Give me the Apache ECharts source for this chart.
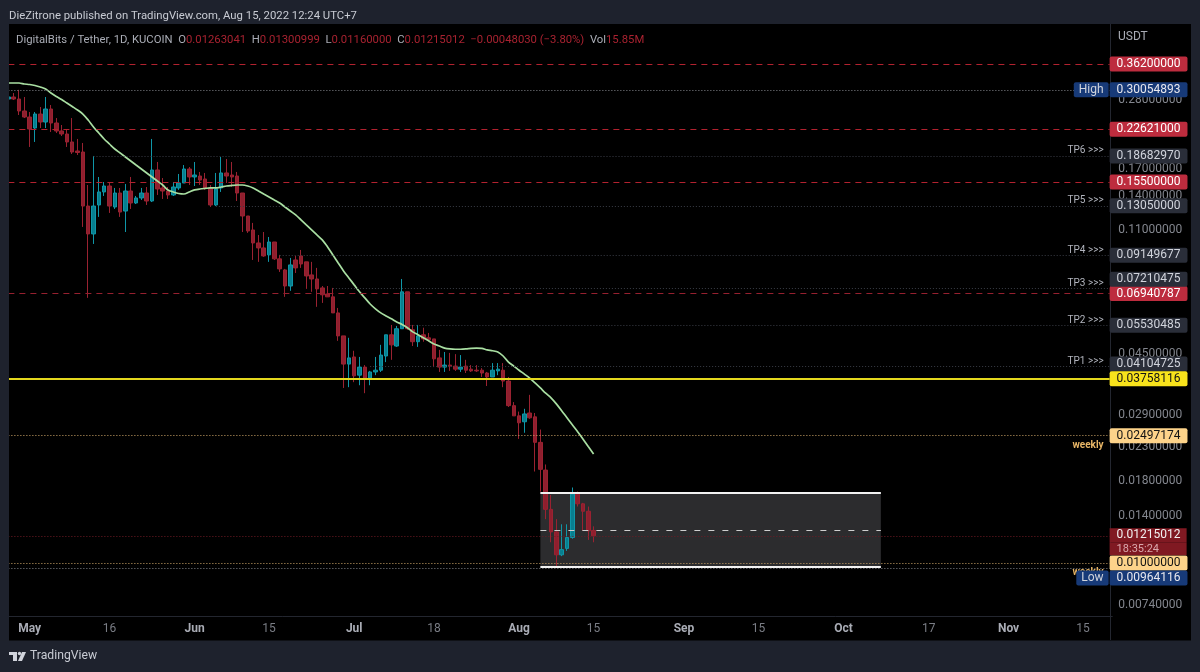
<!DOCTYPE html>
<html>
<head>
<meta charset="utf-8">
<title>DigitalBits / Tether, 1D</title>
<script src="https://cdn.jsdelivr.net/npm/echarts@6/dist/echarts.min.js"></script>
<style>
  html, body { margin: 0; padding: 0; background: #1e222d; }
  #chart { width: 1200px; height: 672px; }
</style>
</head>
<body>
<div id="chart"></div>
<script>
// Daily candles from 27 Apr to 15 Aug 2022
const opens = [
  .2814,.2855,.2814,.2582,.2472,.2284,.2526,.2385,.2619,.2368,.2236,.2188,.2066,.1936,.1922,.1303,
  .1066,.1313,.1442,.1505,.1294,.1431,.1257,.1452,.1332,.1381,.1431,.1351,.1689,.1484,.1452,.1411,
  .1484,.1538,.1701,.1606,.1617,.1583,.1484,.1313,.1484,.1653,.1629,.1617,.1431,.1213,.1097,.0999,
  .0964,.0917,.1006,.0891,.0823,.0733,.0884,.0910,.0872,.0794,.0771,.0723,.0692,.0678,.0604,.0512,
  .0418,.0440,.0386,.0409,.0378,.0395,.0400,.0443,.0516,.0476,.0539,.0703,.0535,.0491,.0516,.0505,
  .0501,.0437,.0409,.0415,.0412,.0403,.0412,.0403,.0400,.0400,.0392,.0381,.0398,.0400,.0370,.0310,
  .0288,.0276,.0294,.0286,.0238,.0195,.0147,.0125,.0106,.0111,.0120,.0164,.0153,.0145,.01263041
];
const closes = [
  .2855,.2814,.2582,.2472,.2268,.2526,.2385,.2619,.2368,.2236,.2188,.2066,.1922,.1915,.1303,.1066,
  .1303,.1442,.1505,.1303,.1431,.1248,.1452,.1332,.1381,.1431,.1351,.1689,.1473,.1452,.1411,.1494,
  .1538,.1701,.1606,.1629,.1571,.1484,.1313,.1473,.1653,.1617,.1606,.1431,.1213,.1089,.0999,.0964,
  .0910,.1006,.0891,.0829,.0733,.0853,.0835,.0859,.0788,.0771,.0718,.0688,.0678,.0604,.0512,.0418,
  .0437,.0384,.0409,.0378,.0395,.0400,.0446,.0516,.0480,.0539,.0703,.0539,.0491,.0512,.0501,.0498,
  .0434,.0409,.0415,.0412,.0403,.0409,.0400,.0398,.0398,.0392,.0381,.0400,.0403,.0370,.0310,.0288,
  .0274,.0292,.0284,.0238,.0196,.0147,.0125,.0106,.0110,.0120,.0164,.0153,.0145,.0126,.01215012
];
const lows = [
  .2794,.2794,.2508,.2454,.1993,.2066,.2284,.2284,.2220,.2204,.2157,.1993,.1895,.1881,.1121,.0673,
  .0992,.1205,.1401,.1240,.1276,.1205,.1081,.1276,.1322,.1361,.1313,.1341,.1411,.1371,.1371,.1401,
  .1463,.1538,.1516,.1505,.1516,.1463,.1294,.1303,.1442,.1538,.1494,.1351,.1081,.1074,.0884,.0872,
  .0904,.0872,.0884,.0811,.0678,.0708,.0805,.0835,.0718,.0703,.0631,.0649,.0678,.0604,.0494,.0352,
  .0354,.0367,.0359,.0339,.0359,.0386,.0395,.0424,.0431,.0473,.0539,.0535,.0476,.0473,.0491,.0491,
  .0409,.0395,.0395,.0398,.0398,.0395,.0392,.0395,.0395,.0381,.0357,.0381,.0386,.0354,.0307,.0288,
  .0244,.0255,.0282,.0193,.0167,.0137,.0116,.00964116,.0105,.0109,.0119,.0150,.0126,.0118,.0116
];
const highs = [
  .2875,.2938,.30054893,.2855,.2563,.2563,.2657,.2855,.2695,.2454,.2334,.2252,.2454,.2111,.2051,.1516,
  .1868,.1606,.1549,.1549,.1484,.1484,.1527,.1606,.1401,.1484,.1494,.2111,.1789,.1594,.1494,.1549,
  .1641,.1750,.1725,.1789,.1665,.1653,.1516,.1653,.1854,.1828,.1789,.1665,.1431,.1213,.1154,.1058,
  .1081,.1043,.1006,.0917,.0829,.0897,.0910,.0950,.0872,.0872,.0835,.0733,.0733,.0723,.0626,.0512,
  .0505,.0460,.0440,.0415,.0398,.0440,.0480,.0516,.0554,.0550,.0771,.0703,.0554,.0554,.0543,.0523,
  .0501,.0463,.0456,.0453,.0449,.0446,.0431,.0415,.0415,.0406,.0395,.0421,.0421,.0421,.0381,.0318,
  .0297,.0303,.0335,.0294,.0261,.0203,.0163,.0137,.0132,.0132,.0172,.0167,.0154,.0150,.01300999
];
// Moving average overlay, one reading per candle
const maValues = [
  .3157,.3157,.3157,.3135,.3124,.3102,.3068,.3024,.2938,.2865,.2804,.2734,.2666,.2600,.2526,.2419,
  .2301,.2204,.2111,.2036,.1964,.1909,.1854,.1802,.1750,.1701,.1653,.1606,.1560,.1516,.1463,.1442,
  .1426,.1421,.1442,.1463,.1473,.1479,.1484,.1484,.1494,.1505,.1511,.1516,.1516,.1505,.1484,.1452,
  .1421,.1391,.1361,.1332,.1294,.1257,.1222,.1179,.1137,.1097,.1058,.1021,.0971,.0917,.0865,.0817,
  .0777,.0739,.0703,.0673,.0644,.0622,.0604,.0591,.0579,.0566,.0556,.0543,.0527,.0516,.0505,.0494,
  .0483,.0476,.0469,.0466,.0465,.0465,.0466,.0468,.0469,.0468,.0463,.0460,.0456,.0443,.0424,.0412,
  .0400,.0389,.0378,.0365,.0352,.0339,.0328,.0314,.0299,.0284,.0270,.0257,.0244,.0231,.0219
];

// Horizontal price levels
const redLevels = [0.362, 0.22621, 0.155, 0.06940787];
const highLevel = 0.30054893;
const lowLevel = 0.00964116;
const tpNames = ['TP6 >>>', 'TP5 >>>', 'TP4 >>>', 'TP3 >>>', 'TP2 >>>', 'TP1 >>>'];
const tpLevels = [0.1868297, 0.1305, 0.09149677, 0.07210475, 0.05530485, 0.04104725];
const tpStarts = ['2022-05-13', '2022-06-05', '2022-06-17', '2022-06-27', '2022-07-11', '2022-07-04'];
const yellowLevel = 0.03758116;
const weeklyLevels = [0.02497174, 0.01];
const lastClose = 0.01215012;
const countdown = '18:35:24';

// Range box drawn after the early-August drop
const boxTop = 0.01653;
const boxMiddle = 0.01269;
const boxBottom = 0.00975;
const boxStart = '2022-08-05';
const boxEnd = '2022-10-08';

// Price scale and time scale labels
const priceTicks = [0.28, 0.17, 0.14, 0.11, 0.045, 0.029, 0.023, 0.018, 0.014, 0.0074];
const timeTickDates = ['2022-05-01', '2022-05-16', '2022-06-01', '2022-06-15', '2022-07-01', '2022-07-16', '2022-08-01',
  '2022-08-15', '2022-09-01', '2022-09-15', '2022-10-01', '2022-10-17', '2022-11-01', '2022-11-15'];
const timeTickLabels = ['May', '16', 'Jun', '15', 'Jul', '18', 'Aug', '15', 'Sep', '15', 'Oct', '17', 'Nov', '15'];

// One category per calendar day across the visible range
const categories = [];
for (let d = Date.UTC(2022, 3, 27), n = 0; n < 208; n++, d += 86400000) {
  categories.push(new Date(d).toISOString().slice(0, 10));
}
const firstDay = categories[0];
const lastDay = categories[categories.length - 1];

const FONT = 'Roboto, "Noto Sans", sans-serif';
const RED_TAG = '#bd2c3e', BLUE_TAG = '#173a78', GREY_TAG = '#2a2e39';
const ORANGE = '#fdd38a', YELLOW = '#f8e31c';

// Price-scale tag shown as a rich label; a blank line above or below nudges it off its level
function tag(text, bg, fg, before, after) {
  const rich = {
    t: { backgroundColor: bg, color: fg, fontFamily: FONT, fontSize: 12, lineHeight: 15, height: 15, padding: [0, 7], borderRadius: 2 },
    g: { height: before || after || 1, lineHeight: before || after || 1, fontSize: 1 }
  };
  let f = '{t|' + text + '}';
  if (before) f = '{g| }\n' + f;
  if (after) f = f + '\n{g| }';
  return { show: true, position: 'end', distance: 0, formatter: f, rich };
}

function level(value, start, lineStyle, label) {
  return [
    { coord: [start, value], lineStyle, label: label || { show: false } },
    { coord: [lastDay, value] }
  ];
}

// Transparent second line that only carries a caption inside the plot
function caption(value, label) {
  return [
    { coord: [firstDay, value], lineStyle: { color: 'rgba(0,0,0,0)', width: 1 }, label },
    { coord: [lastDay, value] }
  ];
}

const lines = [];
const priceText = v => v.toFixed(8);

redLevels.forEach((v, i) => {
  lines.push(level(v, firstDay, { color: i === 3 ? '#96202f' : '#b2222f', type: [6, 5], width: 1 }, tag(priceText(v), RED_TAG, '#fff')));
});

lines.push(level(highLevel, firstDay, { color: '#85878d', type: [1, 2], width: 1 }, tag(priceText(highLevel), BLUE_TAG, '#e8e8ee')));

const tpOffsets = [0, 0, 0, 18, 0, 5];
tpLevels.forEach((v, i) => {
  lines.push(level(v, tpStarts[i], { color: '#3a3d46', type: [1, 2], width: 1 }, tag(priceText(v), GREY_TAG, '#d1d4dc', 0, tpOffsets[i])));
  lines.push(caption(v, {
    show: true, position: 'insideEndTop', distance: [6, 0], formatter: tpNames[i],
    color: '#b2b5be', fontFamily: FONT, fontSize: 10
  }));
});

lines.push(level(yellowLevel, firstDay, { color: '#e4d81e', type: 'solid', width: 2 }, tag(priceText(yellowLevel), YELLOW, '#131313')));

weeklyLevels.forEach(v => {
  lines.push(level(v, firstDay, { color: '#cfa768', type: [1, 2], width: 1 }, tag(priceText(v), ORANGE, '#131313')));
  lines.push(caption(v, {
    show: true, position: 'insideEndBottom', distance: [6, 5], formatter: 'weekly',
    color: '#e7b566', fontFamily: FONT, fontSize: 10, fontWeight: 'bold'
  }));
});

lines.push(level(lastClose, firstDay, { color: '#701b25', type: [1, 2], width: 1 }, {
  show: true, position: 'end', distance: 0,
  formatter: '{g| }\n{t|' + priceText(lastClose) + '}\n{c|' + countdown + '}',
  rich: {
    g: { height: 12, lineHeight: 12, fontSize: 1 },
    t: { backgroundColor: '#801922', color: '#f2f2f2', fontFamily: FONT, fontSize: 12, lineHeight: 14, height: 14, width: 63, padding: [0, 7] },
    c: { backgroundColor: '#801922', color: '#d9a8ad', fontFamily: FONT, fontSize: 11, lineHeight: 13, height: 13, width: 63, padding: [0, 7] }
  }
}));

lines.push(level(lowLevel, firstDay, { color: '#85878d', type: [1, 2], width: 1 }, tag(priceText(lowLevel), BLUE_TAG, '#e8e8ee', 20, 0)));

// High and Low name plates sit beside their price tags
lines.push(caption(highLevel, {
  show: true, position: 'insideEnd', distance: [1, 0], formatter: '{t|High}',
  rich: { t: { backgroundColor: BLUE_TAG, color: '#d1d4dc', fontFamily: FONT, fontSize: 12, lineHeight: 15, height: 15, padding: [0, 5], borderRadius: 2 } }
}));
lines.push(caption(lowLevel, {
  show: true, position: 'insideEnd', distance: [1, 0], formatter: '{g| }\n{t|Low}',
  rich: {
    g: { height: 20, lineHeight: 20, fontSize: 1 },
    t: { backgroundColor: BLUE_TAG, color: '#d1d4dc', fontFamily: FONT, fontSize: 12, lineHeight: 15, height: 15, padding: [0, 5], borderRadius: 2 }
  }
}));

// Edges of the range box
[[boxTop, 'solid', 2, '#f2f2f2'], [boxBottom, 'solid', 2, '#f2f2f2'], [boxMiddle, [6, 8], 1, '#cfcfcf']].forEach(e => {
  lines.push([
    { coord: [boxStart, e[0]], lineStyle: { type: e[1], width: e[2], color: e[3] }, label: { show: false } },
    { coord: [boxEnd, e[0]] }
  ]);
});

const chart = echarts.init(document.getElementById('chart'), null, { renderer: 'canvas' });

const PAGE = '#1e222d', DIVIDER = '#23262f';
const frame = [
  { x: 0, y: 0, width: 1200, height: 24 },
  { x: 0, y: 0, width: 9, height: 672 },
  { x: 1191, y: 0, width: 9, height: 672 },
  { x: 0, y: 640.5, width: 1200, height: 32 }
].map(shape => ({ type: 'rect', shape, style: { fill: PAGE }, z: 50, silent: true }));

chart.setOption({
  animation: false,
  backgroundColor: '#000000',
  title: [
    {
      text: 'DieZitrone published on TradingView.com, Aug 15, 2022 12:24 UTC+7',
      left: 9, top: 9.5, padding: 0, z: 60,
      textStyle: { color: '#c8cbd3', fontFamily: FONT, fontSize: 11.33, fontWeight: 'normal', lineHeight: 14 }
    },
    {
      text: '{g|DigitalBits / Tether, 1D, KUCOIN  O}{r|0.01263041}{g|  H}{r|0.01300999}{g|  L}{r|0.01160000}{g|  C}{r|0.01215012  \u22120.00048030 (\u22123.80%)}{g|  Vol}{r|15.85M}',
      left: 16, top: 33, padding: 0, z: 60,
      textStyle: {
        fontFamily: FONT, fontSize: 11.3, fontWeight: 'normal', lineHeight: 14,
        rich: {
          g: { color: '#a9acb5', fontFamily: FONT, fontSize: 11.3 },
          r: { color: '#a82230', fontFamily: FONT, fontSize: 11.3 }
        }
      }
    },
    {
      text: 'USDT', left: 1118, top: 30, padding: 0, z: 60,
      textStyle: { color: '#a9acb5', fontFamily: FONT, fontSize: 12, fontWeight: 'normal', lineHeight: 14 }
    }
  ],
  grid: { left: 5.72, right: 87.72, top: 24, bottom: 56, containLabel: false },
  xAxis: {
    type: 'category',
    data: categories,
    boundaryGap: true,
    axisLine: { show: true, lineStyle: { color: DIVIDER } },
    axisTick: { show: false },
    splitLine: { show: false },
    axisLabel: {
      margin: 7,
      interval: (i, v) => timeTickDates.includes(v),
      hideOverlap: false,
      formatter: v => {
        const s = timeTickLabels[timeTickDates.indexOf(v)];
        return /\d/.test(s) ? '{n|' + s + '}' : '{m|' + s + '}';
      },
      rich: {
        n: { color: '#7a7d85', fontFamily: FONT, fontSize: 12 },
        m: { color: '#a9acb5', fontFamily: FONT, fontSize: 12, fontWeight: 'bold' }
      }
    }
  },
  yAxis: {
    type: 'log',
    position: 'right',
    min: 0.006825,
    max: 0.4827,
    axisLine: { show: false },
    axisTick: { show: false },
    splitLine: { show: false },
    minorTick: { show: false },
    minorSplitLine: { show: false },
    axisLabel: {
      customValues: priceTicks,
      margin: 6,
      formatter: v => Number(v).toFixed(8),
      color: '#83868e',
      fontFamily: FONT,
      fontSize: 12,
      hideOverlap: false
    }
  },
  series: [
    {
      name: 'Price',
      type: 'candlestick',
      barWidth: 4,
      data: opens.map((o, i) => [o, closes[i], lows[i], highs[i]]),
      itemStyle: { color: '#087f8f', color0: '#8f1f2e', borderColor: '#0f97a8', borderColor0: '#9a2231', borderWidth: 1 },
      markArea: {
        silent: true,
        itemStyle: { color: '#2c2c2e' },
        data: [[{ coord: [boxStart, boxTop] }, { coord: [boxEnd, boxBottom] }]]
      },
      markLine: { silent: true, symbol: 'none', animation: false, data: lines }
    },
    {
      name: 'MA',
      type: 'line',
      data: maValues,
      showSymbol: false,
      smooth: 0.3,
      z: 4,
      lineStyle: { color: '#a9dfa2', width: 1.7 }
    }
  ],
  graphic: {
    elements: frame.concat([
      { type: 'line', shape: { x1: 1110.5, y1: 24, x2: 1110.5, y2: 640 }, style: { stroke: DIVIDER, lineWidth: 1 }, z: 4, silent: true },
      // TradingView mark and wordmark along the bottom edge
      { type: 'polygon', shape: { points: [[9, 652], [17, 652], [17, 661], [13, 661], [13, 655], [9, 655]] }, style: { fill: '#d1d4dc' }, z: 60, silent: true },
      { type: 'circle', shape: { cx: 19.5, cy: 653.5, r: 1.7 }, style: { fill: '#d1d4dc' }, z: 60, silent: true },
      { type: 'polygon', shape: { points: [[22, 652], [26, 652], [22, 661], [18, 661]] }, style: { fill: '#d1d4dc' }, z: 60, silent: true },
      { type: 'text', x: 30, y: 650, style: { text: 'TradingView', fill: '#c8cbd3', font: '12.2px ' + FONT }, z: 60, silent: true }
    ])
  }
});
</script>
</body>
</html>
